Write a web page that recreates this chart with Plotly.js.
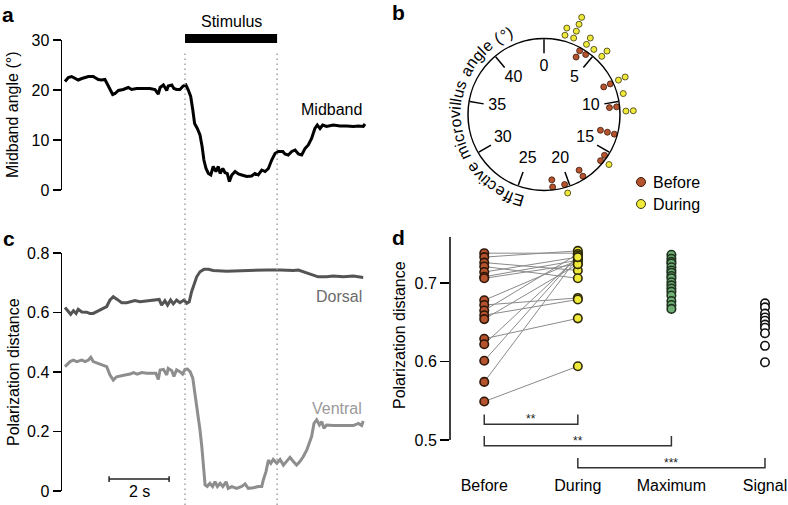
<!DOCTYPE html>
<html><head><meta charset="utf-8">
<script src="https://cdn.plot.ly/plotly-3.0.1.min.js"></script>
<style>html,body{margin:0;padding:0;background:#fff;}#chart{width:788px;height:505px;}</style>
</head><body><div id="chart"></div>
<script>
// ---------------- DATA ----------------
// Panel a: midband angle (deg) vs time (s)
const stimulusWindow = [4.0, 7.07];
const midbandTime = [0,0.11,0.22,0.33,0.44,0.56,0.67,0.78,0.94,1.11,1.22,1.33,1.41,1.5,1.59,1.67,1.78,1.94,2.11,2.22,2.39,2.61,2.83,3.0,3.11,3.17,3.28,3.39,3.44,3.56,3.63,3.72,3.83,3.94,4.03,4.11,4.19,4.26,4.32,4.41,4.5,4.57,4.63,4.7,4.78,4.86,4.94,5.03,5.11,5.17,5.26,5.33,5.41,5.48,5.56,5.67,5.78,5.89,6.06,6.22,6.33,6.44,6.56,6.67,6.78,6.89,7.0,7.11,7.26,7.33,7.44,7.56,7.67,7.78,7.89,8.0,8.11,8.22,8.33,8.41,8.5,8.59,8.72,8.94,9.17,9.39,9.61,9.78,9.94,10.0];
const midbandAngle = [21.7,22.5,22.7,22.3,22.0,22.3,22.5,22.7,22.7,22.1,22.0,22.1,21.2,20.0,19.1,19.3,19.9,20.1,20.5,20.1,20.3,20.3,20.3,20.1,19.2,20.5,21.0,19.9,20.8,21.0,20.3,20.1,20.1,20.8,21.0,20.0,18.7,16,13.3,12.3,11,8.7,6,4.3,3.3,3.0,4.7,3.7,4.7,3.3,4.3,3.5,3.3,1.7,3.0,3.7,3.2,3.0,2.7,2.8,3.3,3.0,4.0,3.7,4.3,6.0,7.3,7.7,7.7,7.2,7.0,7.7,8.0,7.2,7.0,8.3,9.0,10.3,12.3,13.0,12.3,13.0,12.7,13.0,12.8,12.8,12.7,12.8,12.7,13.2];

// Panel c: polarization distance vs time (s)
const dorsalTime = [0,0.11,0.19,0.28,0.37,0.44,0.56,0.72,0.83,0.94,1.06,1.17,1.28,1.39,1.5,1.61,1.74,1.89,2.06,2.22,2.33,2.5,2.72,2.94,3.14,3.22,3.33,3.42,3.52,3.61,3.72,3.83,3.97,4.06,4.14,4.22,4.3,4.39,4.5,4.63,4.78,4.94,5.39,5.83,6.28,6.72,7.17,7.61,7.78,7.94,8.17,8.44,8.72,8.94,9.28,9.61,9.94];
const dorsalDistance = [0.617,0.603,0.594,0.606,0.597,0.611,0.602,0.601,0.597,0.597,0.603,0.608,0.614,0.620,0.642,0.653,0.644,0.633,0.633,0.636,0.640,0.636,0.639,0.640,0.644,0.625,0.640,0.625,0.642,0.629,0.642,0.633,0.642,0.631,0.636,0.670,0.692,0.720,0.737,0.745,0.745,0.741,0.739,0.741,0.743,0.743,0.743,0.741,0.743,0.737,0.728,0.720,0.720,0.723,0.720,0.723,0.718];
const ventralTime = [0,0.17,0.28,0.39,0.56,0.67,0.78,0.86,0.94,1.06,1.17,1.28,1.39,1.5,1.61,1.72,1.83,2.0,2.17,2.28,2.41,2.56,2.72,2.89,3.03,3.11,3.17,3.28,3.39,3.44,3.56,3.63,3.72,3.83,3.92,4.0,4.08,4.17,4.26,4.33,4.41,4.5,4.56,4.61,4.67,4.74,4.83,4.92,5.0,5.08,5.17,5.26,5.37,5.44,5.56,5.72,5.89,6.0,6.11,6.28,6.44,6.56,6.61,6.7,6.78,6.86,6.94,7.06,7.17,7.28,7.39,7.5,7.61,7.72,7.83,7.94,8.06,8.14,8.22,8.3,8.39,8.48,8.56,8.63,8.72,8.94,9.28,9.61,9.78,9.89,9.94];
const ventralDistance = [0.418,0.435,0.44,0.435,0.44,0.435,0.44,0.449,0.435,0.431,0.427,0.424,0.418,0.39,0.373,0.384,0.387,0.39,0.393,0.398,0.393,0.398,0.396,0.396,0.396,0.375,0.407,0.409,0.39,0.412,0.404,0.385,0.407,0.401,0.393,0.409,0.41,0.401,0.379,0.328,0.272,0.205,0.149,0.082,0.02,0.015,0.026,0.015,0.031,0.015,0.026,0.015,0.031,0.009,0.015,0.009,0.015,0.024,0.009,0.011,0.015,0.015,0.037,0.065,0.104,0.093,0.106,0.093,0.106,0.087,0.102,0.113,0.099,0.087,0.099,0.115,0.138,0.16,0.183,0.227,0.239,0.222,0.233,0.211,0.222,0.22,0.22,0.22,0.227,0.22,0.235];
const scaleBarStart = 1.47;   // s
const scaleBarLength = 2;     // s

// Panel b: effective microvillus angle (deg)
const dialTickLabels = ['0','5','10','15','20','25','30','35','40'];
const dialPeriod = 45;
const beforeAngles = [3.65,3.65,4.35,8.15,8.15,10.5,10.5,13.2,13.2,13.2,15.5,16.15,18.47,18.47,20.45,21.65,21.65];
const duringAngles = [1.85,1.85,2.65,2.65,2.65,2.65,3.9,3.9,4.68,5.6,5.6,8.15,8.15,9.4,10.95,10.95,15.95,20.4];
const dialSeries = ['Before','During'];

// Panel d: polarization distance
const categories = ['Before','During','Maximum','Signal'];
const beforeDist  = [0.738,0.733,0.726,0.721,0.714,0.708,0.706,0.678,0.672,0.665,0.659,0.654,0.629,0.622,0.601,0.574,0.549];
const duringDist  = [0.738,0.741,0.716,0.706,0.733,0.729,0.724,0.729,0.681,0.737,0.679,0.724,0.655,0.733,0.735,0.733,0.594];
const maximumDist = [0.736,0.731,0.727,0.725,0.720,0.716,0.713,0.709,0.706,0.701,0.697,0.693,0.689,0.684,0.677,0.672,0.667];
const signalDist  = [0.674,0.669,0.661,0.656,0.652,0.647,0.643,0.636,0.620,0.599];
const comparisons = [['Before','During','**'],['Before','Maximum','**'],['During','Signal','***']];

// ---------------- LAYOUT HELPERS ----------------
const W = 788, H = 505;
const fx = p => p / W, fy = p => 1 - p / H;
const FONT = '"Liberation Sans", Arial, Helvetica, sans-serif';
const BROWN = '#b4532d', YELLOW = '#efe93a', GREEN = '#6fae74';
const BROWN_EDGE = '#3b1a0c', YELLOW_EDGE = '#3a3510';
const DEG = 360 / dialPeriod;
const CX = 544, CY = 114.5, R0 = 76, OUTER = 1.45;  // dial centre/radius in px

function stackIndex(arr){ const seen = {}; return arr.map(v => { const k = seen[v] || 0; seen[v] = k + 1; return k; }); }

const traces = [];
// a
traces.push({type:'scatter', mode:'lines', x:midbandTime, y:midbandAngle, xaxis:'x', yaxis:'y',
  line:{color:'#000', width:3}, hoverinfo:'skip', showlegend:false});
// c
traces.push({type:'scatter', mode:'lines', x:dorsalTime, y:dorsalDistance, xaxis:'x2', yaxis:'y2',
  line:{color:'#545454', width:3}, hoverinfo:'skip', showlegend:false});
traces.push({type:'scatter', mode:'lines', x:ventralTime, y:ventralDistance, xaxis:'x2', yaxis:'y2',
  line:{color:'#8e8e8e', width:3}, hoverinfo:'skip', showlegend:false});

// b (polar = dial; polar2 = same centre, wider radial range for dots outside the dial)
const bk = stackIndex(beforeAngles), dk = stackIndex(duringAngles);
traces.push({type:'scatterpolar', subplot:'polar', mode:'markers', name:dialSeries[0],
  r: bk.map(k => (73 - 7.2*k)/R0), theta: beforeAngles.map(a => a*DEG),
  marker:{size:6, color:BROWN, line:{color:BROWN_EDGE, width:0.8}}, cliponaxis:false, showlegend:false, hoverinfo:'skip'});
traces.push({type:'scatterpolar', subplot:'polar', mode:'text',
  r: dialTickLabels.map(() => 0.625), theta: dialTickLabels.map(t => Number(t)*DEG), text: dialTickLabels,
  textfont:{size:16, color:'#000', family:FONT}, cliponaxis:false, showlegend:false, hoverinfo:'skip'});
traces.push({type:'scatterpolar', subplot:'polar2', mode:'markers', name:dialSeries[1],
  r: dk.map(k => (82 + 7.4*k)/R0), theta: duringAngles.map(a => a*DEG),
  marker:{size:6, color:YELLOW, line:{color:YELLOW_EDGE, width:0.8}}, cliponaxis:false, showlegend:false, hoverinfo:'skip'});

// d
const xi = c => categories.indexOf(c);
const lx = [], ly = [];
beforeDist.forEach((b, i) => { lx.push(xi('Before'), xi('During'), null); ly.push(b, duringDist[i], null); });
traces.push({type:'scatter', mode:'lines', x:lx, y:ly, xaxis:'x3', yaxis:'y3',
  line:{color:'#8a8a8a', width:1}, hoverinfo:'skip', showlegend:false});
function dots(vals, cat, fill, edge){
  return {type:'scatter', mode:'markers', x:vals.map(() => xi(cat)), y:vals, xaxis:'x3', yaxis:'y3', name:cat,
    marker:{size:8.5, color:fill, line:{color:edge, width:1.6}}, cliponaxis:false, hoverinfo:'skip', showlegend:false};
}
traces.push(dots(beforeDist, 'Before', BROWN, '#2e1608'));
traces.push(dots(duringDist, 'During', YELLOW, '#2e2a08'));
traces.push(dots(maximumDist, 'Maximum', GREEN, '#1f3320'));
traces.push(dots(signalDist, 'Signal', '#ffffff', '#111'));

// ---------------- SHAPES ----------------
const shapes = [];
stimulusWindow.forEach(t => shapes.push({type:'line', xref:'x', yref:'paper', x0:t, x1:t, y0:0, y1:fy(50),
  line:{color:'#9a9a9a', width:1.4, dash:'1.5px,3.5px'}}));
shapes.push({type:'rect', xref:'x', yref:'paper', x0:stimulusWindow[0], x1:stimulusWindow[1], y0:fy(43), y1:fy(34),
  fillcolor:'#000', line:{width:0}});
// scale bar
const sbY = 0.04, sbCap = 0.01;
shapes.push({type:'line', xref:'x2', yref:'y2', x0:scaleBarStart, x1:scaleBarStart+scaleBarLength, y0:sbY, y1:sbY, line:{color:'#222', width:1.5}});
[scaleBarStart, scaleBarStart+scaleBarLength].forEach(x => shapes.push({type:'line', xref:'x2', yref:'y2', x0:x, x1:x, y0:sbY-sbCap, y1:sbY+sbCap, line:{color:'#222', width:1.5}}));
// d axis line
shapes.push({type:'line', xref:'x3 domain', yref:'y3', x0:0, x1:0, y0:0.5, y1:0.759, line:{color:'#000', width:1.5}});
// brackets
const bracketLevels = [0.52, 0.4927, 0.4647], bracketTick = 0.0125;
const annotations = [];
comparisons.forEach((c, i) => {
  const a = xi(c[0]), b = xi(c[1]), y = bracketLevels[i];
  shapes.push({type:'path', xref:'x3', yref:'y3', path:`M ${a},${y+bracketTick} L ${a},${y} L ${b},${y} L ${b},${y+bracketTick}`,
    line:{color:'#333', width:1.5}});
  annotations.push({xref:'x3', yref:'y3', x:(a+b)/2, y:y, xanchor:'center', yanchor:'bottom', yshift:-4, text:c[2], showarrow:false, font:{size:12, color:'#222'}});
});

// ---------------- ANNOTATIONS ----------------
function paperText(px, py, text, extra){
  return Object.assign({xref:'paper', yref:'paper', x:fx(px), y:fy(py), xanchor:'center', yanchor:'middle', text:text, showarrow:false, font:{size:16}}, extra || {});
}
annotations.push({xref:'x', yref:'paper', x:(stimulusWindow[0]+stimulusWindow[1])/2, y:fy(21), xanchor:'center', yanchor:'middle', text:'Stimulus', showarrow:false, font:{size:16}});
annotations.push({xref:'x', yref:'y', x:9.95, xanchor:'right', yanchor:'middle', y:16, text:'Midband', showarrow:false, font:{size:16}});
annotations.push({xref:'x2', yref:'y2', x:9.95, xanchor:'right', yanchor:'middle', y:0.655, text:'Dorsal', showarrow:false, font:{size:16, color:'#6b6b6b'}});
annotations.push({xref:'x2', yref:'y2', x:9.95, xanchor:'right', yanchor:'middle', y:0.279, text:'Ventral', showarrow:false, font:{size:16, color:'#9a9a9a'}});
annotations.push({xref:'x2', yref:'y2', x:scaleBarStart+scaleBarLength/2, y:sbY, xanchor:'center', yanchor:'top', yshift:-2, text:'2 s', showarrow:false, font:{size:16}});
// axis titles
annotations.push(paperText(13, 115, 'Midband angle (°)', {textangle:-90}));
annotations.push(paperText(13, 372, 'Polarization distance', {textangle:-90}));
annotations.push(paperText(399, 335, 'Polarization distance', {textangle:-90}));
// panel letters
[['a',8,14],['b',398,12],['c',9,238],['d',398.5,237]].forEach(p => annotations.push(paperText(p[1], p[2], '<b>'+p[0]+'</b>', {font:{size:21}})));
// legend for panel b (swatch + label)
[[dialSeries[0], BROWN, BROWN_EDGE, 182], [dialSeries[1], YELLOW, YELLOW_EDGE, 204]].forEach(l => {
  shapes.push({type:'circle', xref:'paper', yref:'paper', x0:fx(641-4.5), x1:fx(641+4.5), y0:fy(l[3]+4.5), y1:fy(l[3]-4.5),
    fillcolor:l[1], line:{color:l[2], width:1}});
  annotations.push(paperText(651, l[3], l[0], {xanchor:'left'}));
});
// curved dial title
const dialTitle = 'Effective microvillus angle (°)';
const ctx = document.createElement('canvas').getContext('2d');
ctx.font = '16px "Liberation Sans", Arial, sans-serif';
const chars = [...dialTitle];
const widths = chars.map(ch => ctx.measureText(ch).width);
const totalW = widths.reduce((s, w) => s + w, 0);
const startDeg = 193, spanDeg = 146, Rt = 89;
let acc = 0;
chars.forEach((ch, i) => {
  const mid = acc + widths[i]/2; acc += widths[i];
  if (ch === ' ') return;
  const phi = startDeg + spanDeg*mid/totalW, rad = phi*Math.PI/180;
  annotations.push(paperText(CX + Rt*Math.sin(rad), CY - Rt*Math.cos(rad), ch, {textangle:((phi+180)%360)-180}));
});

const yAxisCommon = {ticks:'outside', ticklen:8, tickwidth:1.5, tickcolor:'#000', showline:true, linewidth:1.5, linecolor:'#000',
  showgrid:false, zeroline:false, tickfont:{size:16}, fixedrange:true};
const dialTickTheta = dialTickLabels.map(t => Number(t)*DEG);
const R2 = R0*OUTER;

const layout = {
  width:W, height:H, margin:{l:0, r:0, t:0, b:0}, paper_bgcolor:'#fff', plot_bgcolor:'rgba(0,0,0,0)',
  font:{family:FONT, size:16, color:'#000'}, hovermode:false, showlegend:false,
  xaxis:{domain:[fx(62), fx(368)], range:[-0.1, 10.1], visible:false, anchor:'y'},
  yaxis:Object.assign({domain:[fy(190), fy(40)], range:[0, 30], tickvals:[0,10,20,30], anchor:'x'}, yAxisCommon),
  xaxis2:{domain:[fx(62), fx(368)], range:[-0.1, 10.1], visible:false, anchor:'y2'},
  yaxis2:Object.assign({domain:[fy(491), fy(253)], range:[0, 0.8], tickvals:[0,0.2,0.4,0.6,0.8], anchor:'x2'}, yAxisCommon),
  xaxis3:{domain:[fx(450), 1], range:[-0.366, 3.246], tickvals:categories.map((c, i) => i), ticktext:categories,
    ticks:'', showline:false, showgrid:false, zeroline:false, anchor:'y3', tickfont:{size:16}},
  yaxis3:Object.assign({}, yAxisCommon, {domain:[fy(474), fy(236.7)], range:[0.4567, 0.759], tickvals:[0.5,0.6,0.7],
    showline:false, ticklen:9, anchor:'x3'}),
  polar:{domain:{x:[fx(CX-R0), fx(CX+R0)], y:[fy(CY+R0), fy(CY-R0)]}, bgcolor:'rgba(0,0,0,0)',
    radialaxis:{visible:false, range:[0, 1]},
    angularaxis:{rotation:90, direction:'clockwise', thetaunit:'degrees', tickmode:'array',
      tickvals:dialTickTheta, ticks:'inside', ticklen:14, tickwidth:1.5, tickcolor:'#000',
      showticklabels:false, showgrid:false, showline:true, linecolor:'#000', linewidth:1.5}},
  polar2:{domain:{x:[fx(CX-R2), fx(CX+R2)], y:[fy(CY+R2), fy(CY-R2)]}, bgcolor:'rgba(0,0,0,0)',
    radialaxis:{visible:false, range:[0, OUTER]},
    angularaxis:{rotation:90, direction:'clockwise', thetaunit:'degrees', visible:false, showgrid:false, showline:false, ticks:''}},
  shapes:shapes, annotations:annotations
};

Plotly.newPlot('chart', traces, layout, {staticPlot:true, displayModeBar:false});
</script>
</body></html>
